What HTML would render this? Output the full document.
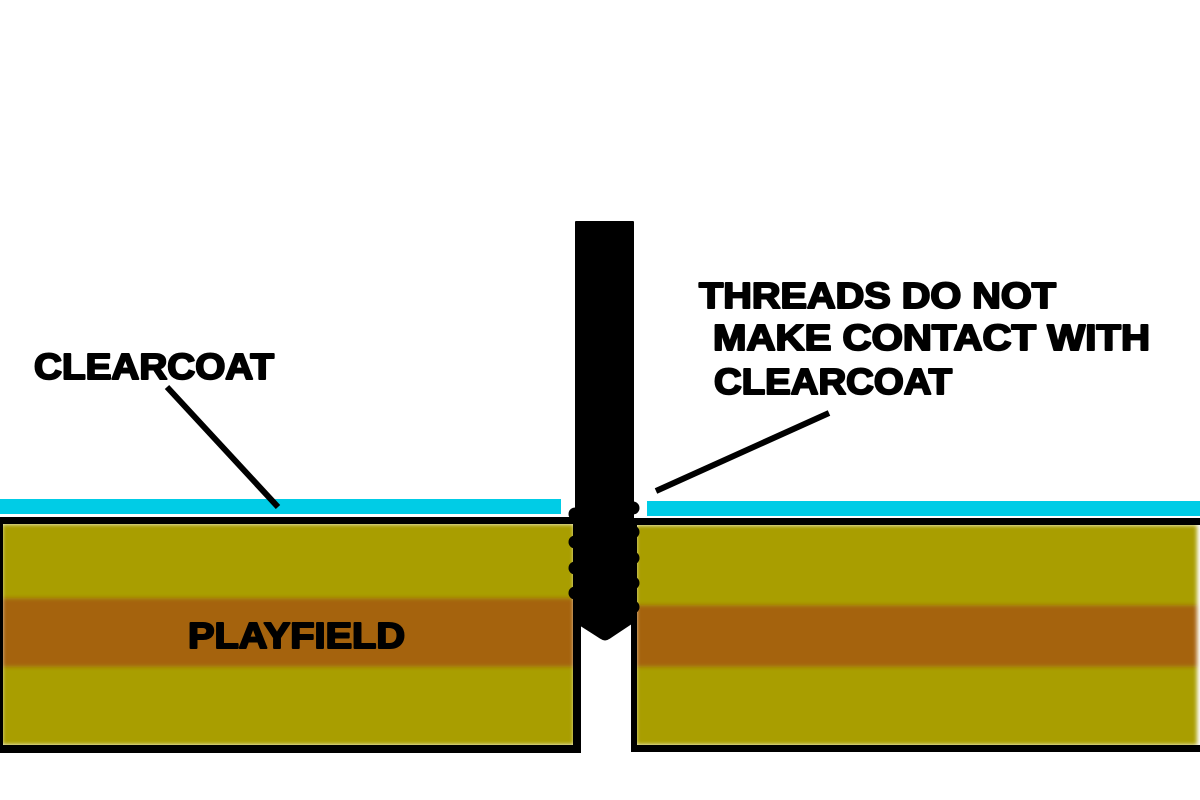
<!DOCTYPE html>
<html>
<head>
<meta charset="utf-8">
<style>
  html, body { margin: 0; padding: 0; background: #ffffff; }
  body { width: 1200px; height: 800px; overflow: hidden; }
  svg { display: block; }
  .lbl { font-family: "Liberation Sans", Arial, sans-serif; font-weight: bold; font-size: 36px; fill: #000; stroke: #000; stroke-width: 2px; stroke-linejoin: round; }
</style>
</head>
<body>
<svg width="1200" height="800" viewBox="0 0 1200 800" xmlns="http://www.w3.org/2000/svg">
  <defs>
    <filter id="blur" x="-5%" y="-5%" width="110%" height="110%">
      <feGaussianBlur stdDeviation="2"/>
    </filter>
  </defs>
  <rect x="0" y="0" width="1200" height="800" fill="#ffffff"/>

  <!-- Cyan clearcoat -->
  <rect x="0" y="499" width="561" height="15" fill="#00CCE6"/>
  <rect x="647" y="501" width="553" height="15" fill="#00CCE6"/>

  <!-- Left playfield fill -->
  <g filter="url(#blur)">
    <rect x="2" y="524" width="572" height="221" fill="#A99E00"/>
    <rect x="2" y="598" width="572" height="69" fill="#A5640B"/>
  </g>
  <!-- Right playfield fill -->
  <g filter="url(#blur)">
    <rect x="636" y="525" width="561" height="220" fill="#A99E00"/>
    <rect x="636" y="605" width="561" height="62" fill="#A5640B"/>
  </g>

  <!-- Left playfield borders -->
  <rect x="0" y="517" width="581" height="7" fill="#000"/>
  <rect x="0" y="517" width="3" height="236" fill="#000"/>
  <rect x="573" y="517" width="8" height="236" fill="#000"/>
  <rect x="0" y="745" width="581" height="8" fill="#000"/>

  <!-- Right playfield borders -->
  <rect x="631" y="518" width="569" height="7" fill="#000"/>
  <rect x="631" y="518" width="6" height="234" fill="#000"/>
  <rect x="631" y="745" width="569" height="7" fill="#000"/>

  <!-- Screw -->
  <path d="M576,222 L633,222 L633,622 L609,638 Q605,641 601,638 L576,622 Z" fill="#000" stroke="#000" stroke-width="2" stroke-linejoin="round"/>
  <!-- Threads left -->
  <circle cx="575" cy="514" r="6.5" fill="#000"/>
  <circle cx="575" cy="542" r="6.5" fill="#000"/>
  <circle cx="575" cy="568" r="6.5" fill="#000"/>
  <circle cx="575" cy="593" r="6.5" fill="#000"/>
  <!-- Threads right -->
  <circle cx="633" cy="508" r="6.5" fill="#000"/>
  <circle cx="633" cy="532" r="6.5" fill="#000"/>
  <circle cx="633" cy="558" r="6.5" fill="#000"/>
  <circle cx="633" cy="583" r="6.5" fill="#000"/>
  <circle cx="633" cy="607" r="6.5" fill="#000"/>

  <!-- Leader lines -->
  <line x1="167" y1="387" x2="278" y2="507" stroke="#000" stroke-width="6"/>
  <line x1="656" y1="491" x2="829" y2="413" stroke="#000" stroke-width="6"/>

  <!-- Labels -->
  <text class="lbl" x="34" y="379" textLength="240" lengthAdjust="spacingAndGlyphs">CLEARCOAT</text>
  <text class="lbl" x="699" y="308" textLength="357" lengthAdjust="spacingAndGlyphs">THREADS DO NOT</text>
  <text class="lbl" x="713" y="350" textLength="437" lengthAdjust="spacingAndGlyphs">MAKE CONTACT WITH</text>
  <text class="lbl" x="714" y="394" textLength="238" lengthAdjust="spacingAndGlyphs">CLEARCOAT</text>
  <text class="lbl" x="188" y="648" textLength="217" lengthAdjust="spacingAndGlyphs">PLAYFIELD</text>
</svg>
</body>
</html>
